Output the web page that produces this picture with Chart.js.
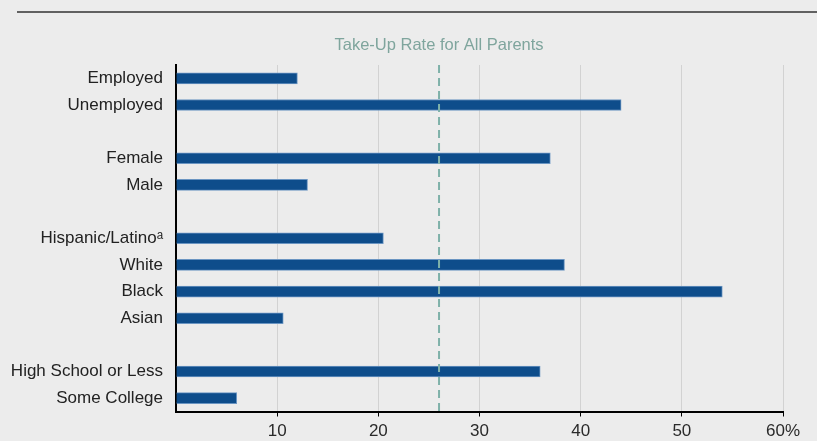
<!DOCTYPE html>
<html>
<head>
<meta charset="utf-8">
<script src="https://cdn.jsdelivr.net/npm/chart.js@4/dist/chart.umd.min.js"></script>
<style>
  html, body { margin: 0; padding: 0; background: #ececec; }
  #wrap { width: 817px; height: 441px; position: relative; }
</style>
</head>
<body>
<div id="wrap"><canvas id="grafico"></canvas></div>
<script>
// categories, '' rows are the gaps between groups
const categorias = ['Employed', 'Unemployed', '', 'Female', 'Male', '', 'Hispanic/Latino\u1d43', 'White', 'Black', 'Asian', '', 'High School or Less', 'Some College'];
const tasas = [12, 44, null, 37, 13, null, 20.5, 38.4, 54, 10.6, null, 36, 6];
const tasaTodos = 26;
const tituloTodos = 'Take-Up Rate for All Parents';
const ticksX = [10, 20, 30, 40, 50, 60];

const fuente = '"Liberation Sans", Arial, sans-serif';

const lineaPromedio = {
  id: 'lineaPromedio',
  beforeDraw(chart) {
    const ctx = chart.ctx;
    ctx.save();
    ctx.strokeStyle = '#333';
    ctx.lineWidth = 1.5;
    ctx.beginPath();
    ctx.moveTo(17, 12);
    ctx.lineTo(817, 12);
    ctx.stroke();
    ctx.restore();
  },
  afterDatasetsDraw(chart) {
    const ctx = chart.ctx;
    const x = chart.scales.x.getPixelForValue(tasaTodos);
    const area = chart.chartArea;
    ctx.save();
    ctx.strokeStyle = '#7fb1a9';
    ctx.lineWidth = 2;
    ctx.setLineDash([8, 5]);
    ctx.beginPath();
    ctx.moveTo(x, area.top);
    ctx.lineTo(x, area.bottom);
    ctx.stroke();
    ctx.setLineDash([]);
    ctx.fillStyle = '#7fa59d';
    ctx.font = '16.5px ' + fuente;
    ctx.textAlign = 'center';
    ctx.textBaseline = 'middle';
    ctx.fillText(tituloTodos, x, 45);
    ctx.restore();
  }
};

new Chart(document.getElementById('grafico'), {
  type: 'bar',
  data: {
    labels: categorias,
    datasets: [{
      data: tasas,
      backgroundColor: '#0e4d8b',
      borderColor: '#6a95c2',
      borderWidth: 1,
      barThickness: 11
    }]
  },
  options: {
    indexAxis: 'y',
    responsive: true,
    maintainAspectRatio: false,
    animation: false,
    layout: { padding: { top: 65, right: 34, left: 0, bottom: 0 } },
    plugins: { legend: { display: false }, tooltip: { enabled: false } },
    scales: {
      x: {
        min: 0,
        max: 60,
        afterBuildTicks(scale) {
          scale.ticks = [{ value: 0 }].concat(ticksX.map(v => ({ value: v })));
        },
        afterFit(scale) { scale.height = 29.5; },
        border: { color: '#000', width: 2 },
        grid: {
          color: c => c.tick && c.tick.value === 0 ? 'rgba(0,0,0,0)' : '#d2d2d2',
          tickColor: c => c.tick && c.tick.value === 0 ? 'rgba(0,0,0,0)' : '#000',
          tickLength: 5,
          lineWidth: 1
        },
        ticks: {
          color: '#2a2a2a',
          font: { family: fuente, size: 17 },
          padding: 5,
          callback: v => v === 0 ? '' : (v === 60 ? '60%' : v)
        }
      },
      y: {
        afterFit(scale) { scale.width = 176; },
        border: { color: '#000', width: 2 },
        grid: { display: false, drawTicks: false },
        ticks: {
          color: '#222',
          font: { family: fuente, size: 17 },
          padding: 13,
          autoSkip: false
        }
      }
    }
  },
  plugins: [lineaPromedio]
});
</script>
</body>
</html>
